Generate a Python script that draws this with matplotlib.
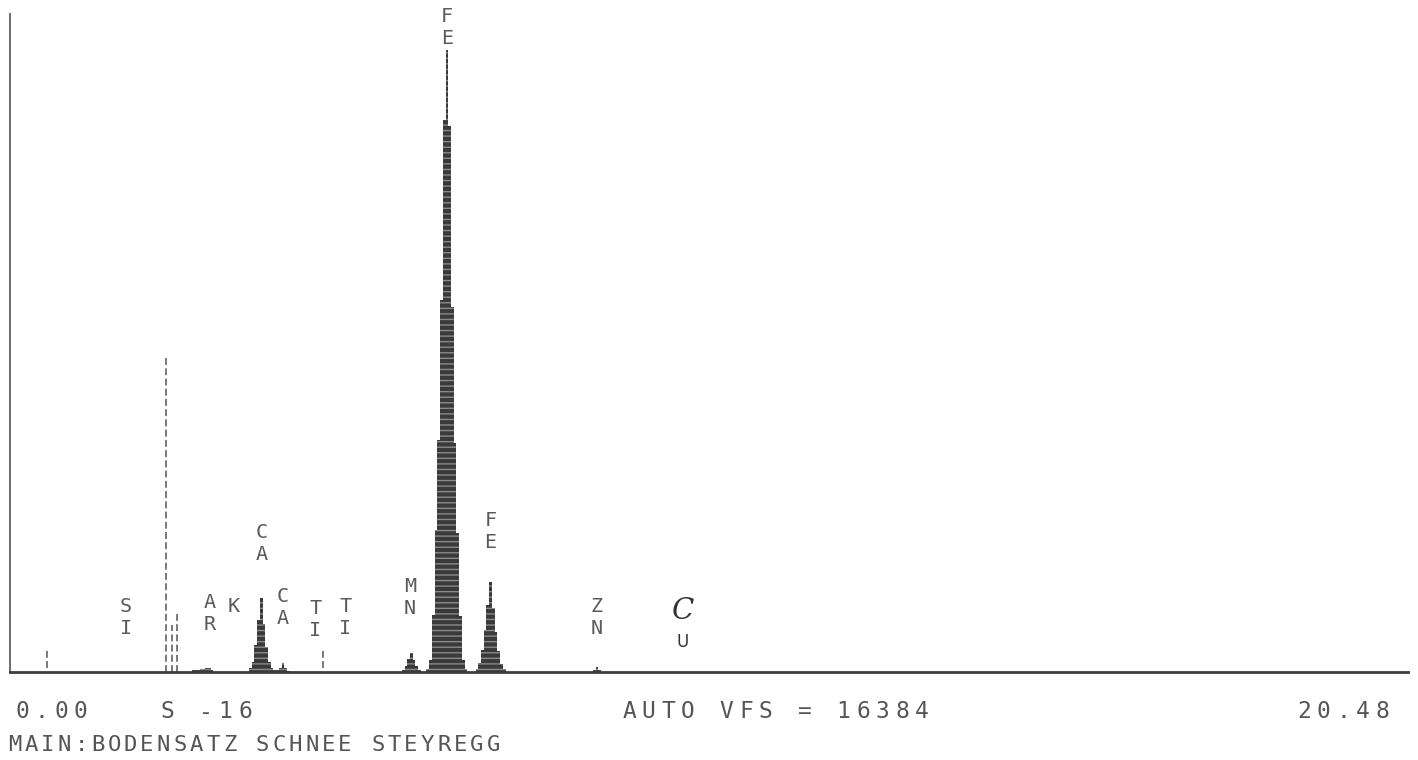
import matplotlib
matplotlib.use('Agg')
import matplotlib.pyplot as plt
import numpy as np

#------------------- datos del espectro -------------------
full_scale = 16384      # AUTO VFS
e_max = 20.48           # keV
canal = 0.04            # ancho de cada barra (keV)

fe_ka_e = [6.12, 6.16, 6.20, 6.24, 6.28, 6.32, 6.36, 6.40, 6.44, 6.48, 6.52, 6.56, 6.60, 6.64, 6.68]
fe_ka_c = [75, 300, 1420, 3540, 5780, 9260, 13745, 15490, 13600, 9100, 5700, 3450, 1400, 300, 75]

fe_kb_e = [6.84, 6.88, 6.92, 6.96, 7.00, 7.04, 7.08, 7.12, 7.16, 7.20, 7.24]
fe_kb_c = [75, 225, 550, 1045, 1670, 2240, 1600, 1000, 520, 210, 75]

ca_e = [3.52, 3.56, 3.60, 3.64, 3.68, 3.72, 3.76, 3.80, 3.84, 3.88, 3.92, 3.96, 4.00, 4.04, 4.08]
ca_c = [90, 250, 670, 1295, 1840, 1200, 620, 250, 90, 40, 40, 110, 225, 100, 30]

mn_e = [5.76, 5.80, 5.84, 5.88, 5.92, 5.96, 6.00]
mn_c = [50, 150, 330, 470, 310, 150, 50]

zn_e = [8.56, 8.60, 8.64]
zn_c = [50, 125, 50]

ar_e = [2.68, 2.72, 2.76, 2.80, 2.84, 2.88, 2.92, 2.96]
ar_c = [50, 60, 40, 70, 80, 100, 110, 60]

# marcadores a trazos (keV, cuentas abajo, cuentas arriba)
marca_e = [0.54, 2.28, 2.38, 2.45, 4.58]
marca_abajo = [100, 0, 0, 0, 100]
marca_arriba = [600, 7890, 1170, 1490, 550]

# etiquetas de elementos
etiqueta = ['SI', 'AR', 'K', 'CA', 'CA', 'TI', 'TI', 'MN', 'FE', 'FE', 'ZN']
etiqueta_e = [1.70, 2.92, 3.27, 3.68, 4.00, 4.47, 4.91, 5.86, 6.40, 7.04, 8.60]
#-----------------------------------------------------------

W, H = 1418, 760
fig = plt.figure(figsize=(W / 100, H / 100), dpi=100)
fig.patch.set_facecolor('white')

# area del grafico en pixeles: x 10..1408, y 14..672
ax = fig.add_axes([10 / W, (H - 672) / H, 1398 / W, 658 / H])
ax.set_xlim(0, e_max)
ax.set_ylim(0, full_scale)
ax.set_xticks([])
ax.set_yticks([])
ax.spines['top'].set_visible(False)
ax.spines['right'].set_visible(False)
ax.spines['left'].set_color('#6a6a6a')
ax.spines['left'].set_linewidth(1.4)
ax.spines['bottom'].set_color('#3c3c3c')
ax.spines['bottom'].set_linewidth(2.0)
ax.patch.set_alpha(0)

cuenta_px = full_scale / 658.0  # cuentas por pixel


def py2c(y):
    return (672 - y) * cuenta_px


e_todo = fe_ka_e + fe_kb_e + ca_e + mn_e + zn_e + ar_e
c_todo = fe_ka_c + fe_kb_c + ca_c + mn_c + zn_c + ar_c
ax.bar(e_todo, c_todo, width=canal, color='#3a3a3a', edgecolor='#8a8a8a',
       linewidth=0, hatch='---', zorder=3)

for e, a, b in zip(marca_e, marca_abajo, marca_arriba):
    ax.plot([e, e], [a, b], color='#555555', lw=1.1, ls=(0, (4.5, 2.2)), zorder=2)

# posiciones verticales (px) de la primera letra
letra_y = [607, 603, 607, 533, 597, 608, 606, 586, 17, 520, 607]
paso_letra = 22
for txt, e, y in zip(etiqueta, etiqueta_e, letra_y):
    for i, ch in enumerate(txt):
        ax.text(e, py2c(y + i * paso_letra), ch, ha='center', va='center',
                fontsize=14.5, family='DejaVu Sans Mono', color='#5a5a5a',
                clip_on=False, zorder=4)

# marca manuscrita
ax.text(9.86, py2c(611), 'C', ha='center', va='center', fontsize=21,
        family='DejaVu Serif', style='italic', color='#333333')
ax.text(9.86, py2c(642), 'U', ha='center', va='center', fontsize=12,
        family='DejaVu Sans', color='#333333')


def texto_mono(x0, y, s, paso, size):
    for i, ch in enumerate(s):
        fig.text((x0 + i * paso) / W, 1 - y / H, ch, ha='center', va='center',
                 fontsize=size, family='DejaVu Sans Mono', color='#555555')


texto_mono(22, 712, '0.00', 19.5, 16.5)
texto_mono(167, 712, 'S -16', 19.5, 16.5)
texto_mono(629, 712, 'AUTO VFS = 16384', 19.5, 16.5)
texto_mono(1304, 712, '20.48', 19.5, 16.5)
texto_mono(15, 745, 'MAIN:BODENSATZ SCHNEE STEYREGG', 16.5, 16)

fig.savefig('out.png', dpi=100)
